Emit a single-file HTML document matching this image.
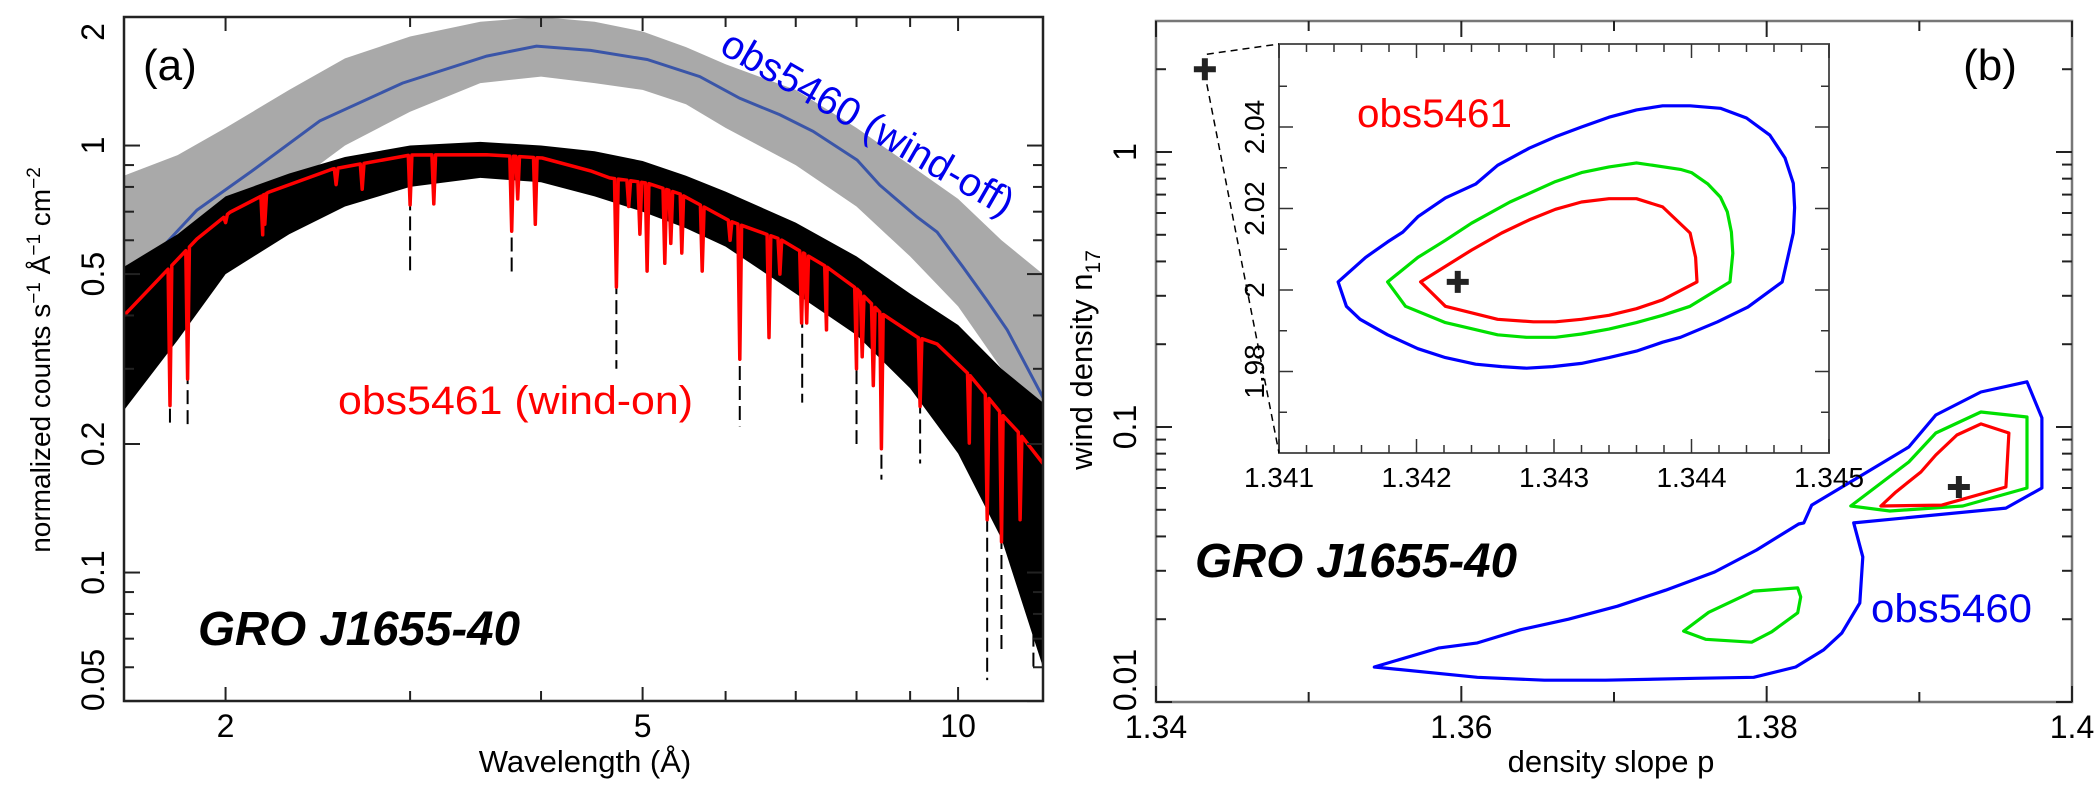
<!DOCTYPE html>
<html><head><meta charset="utf-8">
<style>
html,body{margin:0;padding:0;background:#fff;}
svg{display:block;}
text{font-family:"Liberation Sans",sans-serif;}
</style></head>
<body>
<svg id="fig" width="2100" height="792" viewBox="0 0 2100 792" xmlns="http://www.w3.org/2000/svg">
  <g id="pa"></g>
  <g id="pb"></g>
</svg>
<script>
// ---------- Panel (a) data ----------
const wlRed   = [1.6,1.705,1.878,2.02,2.2,2.53,3.0,3.55,4.01,4.46,4.65,5.05,5.43,6.06,6.76,7.5,8.01,8.42,9.14,9.55,10.27,11.04,11.46,12.05];
const modelRed= [0.40,0.471,0.604,0.698,0.778,0.881,0.95,0.952,0.935,0.872,0.84,0.817,0.77,0.665,0.604,0.519,0.461,0.407,0.356,0.343,0.289,0.233,0.211,0.18];
const wlBlue  = [1.61,1.77,1.878,2.12,2.46,2.95,3.55,3.96,4.46,5.05,5.67,6.19,6.76,7.27,8.01,8.42,9.14,9.55,10.11,10.66,11.14,12.05];
const modelBlue=[0.471,0.604,0.706,0.872,1.142,1.40,1.62,1.71,1.67,1.59,1.45,1.29,1.18,1.08,0.925,0.808,0.68,0.627,0.519,0.433,0.37,0.257];
const bandWl  = [1.6,1.8,2.0,2.3,2.6,3.0,3.5,4.0,4.5,5.0,5.5,6.0,7.0,8.0,9.0,10,11,12.05];
const greyLo  = [0.33,0.5,0.6,0.8,1.0,1.2,1.4,1.45,1.4,1.35,1.25,1.1,0.9,0.72,0.55,0.42,0.3,0.2];
const greyHi  = [0.85,0.95,1.1,1.35,1.6,1.8,1.95,2.0,1.95,1.85,1.7,1.55,1.35,1.1,0.9,0.75,0.6,0.5];
const blackLo = [0.24,0.35,0.5,0.62,0.72,0.8,0.84,0.82,0.76,0.7,0.64,0.58,0.45,0.36,0.27,0.19,0.12,0.06];
const blackHi = [0.52,0.62,0.76,0.86,0.94,1.0,1.02,1.0,0.97,0.92,0.85,0.78,0.66,0.55,0.45,0.38,0.3,0.25];
const lineWl  = [1.77,1.84,2.0,2.17,2.18,2.55,2.70,3.0,3.16,3.75,3.8,3.95,4.72,4.85,4.97,5.05,5.25,5.32,5.45,5.7,6.06,6.19,6.6,6.76,7.09,7.17,7.49,8.0,8.1,8.3,8.45,9.2,10.25,10.66,11.0,11.46];
const lineMin = [0.246,0.284,0.66,0.618,0.654,0.81,0.79,0.726,0.73,0.63,0.75,0.654,0.466,0.72,0.62,0.508,0.53,0.59,0.56,0.508,0.6,0.316,0.355,0.5,0.384,0.384,0.37,0.30,0.32,0.274,0.195,0.245,0.201,0.133,0.118,0.133];
const dipWl   = [1.77,1.84,3.0,3.75,4.72,6.19,7.1,8.0,8.45,9.2,10.0,10.66,11.0,11.8];
const dipMin  = [0.22,0.22,0.5,0.5,0.3,0.22,0.25,0.2,0.165,0.18,0.2,0.056,0.065,0.06];
const xTicksA = [2,3,4,5,6,7,8,9,10];
const xLabA   = ["2","5","10"];
const yTicksA = [0.05,0.06,0.07,0.08,0.09,0.1,0.2,0.3,0.4,0.5,0.6,0.7,0.8,0.9,1,2];
const yLabA   = ["0.05","0.1","0.2","0.5","1","2"];

// ---------- Panel (b) data ----------
const blueP = [1.3543,1.35849,1.36105,1.36387,1.36702,1.37023,1.37338,1.37659,1.37934,1.3821,1.38243,1.38295,1.38649,1.38931,1.39108,1.39403,1.39705,1.39803,1.39803,1.39567,1.3857,1.3863,1.3861,1.38492,1.38374,1.3819,1.37915,1.37534,1.36944,1.36544,1.36105];
const blueN = [0.0134,0.0157,0.0164,0.0183,0.02,0.0223,0.0255,0.0297,0.0357,0.0444,0.0448,0.052,0.0681,0.0846,0.1106,0.134,0.146,0.108,0.06,0.0507,0.0448,0.0337,0.0229,0.0178,0.0155,0.0134,0.0123,0.0122,0.012,0.012,0.0123];
const greenP = [1.38551,1.38807,1.39285,1.39705,1.39705,1.39403,1.39108,1.38931];
const greenN = [0.0516,0.0495,0.0516,0.06,0.1087,0.1134,0.0951,0.0746];
const green2P = [1.37456,1.3762,1.37915,1.38203,1.38223,1.38203,1.38033,1.37902,1.376];
const green2N = [0.0181,0.0212,0.0253,0.026,0.0241,0.0211,0.018,0.0165,0.0169];
const redP = [1.38748,1.39148,1.39567,1.39587,1.39403,1.39246,1.39108,1.3901,1.38846];
const redN = [0.0516,0.052,0.0605,0.0951,0.1026,0.0935,0.0791,0.0686,0.058];
const bestMain = [1.39259,0.0605];
const bestBig  = [1.3432,2.0];
const xTicksB = [1.34,1.35,1.36,1.37,1.38,1.39,1.4];
const xLabB = ["1.34","1.36","1.38","1.4"];
const yTicksB = [0.01,0.02,0.03,0.04,0.05,0.06,0.07,0.08,0.09,0.1,0.2,0.3,0.4,0.5,0.6,0.7,0.8,0.9,1,2];
const yLabB = ["0.01","0.1","1"];
// inset
const inBlueP = [1.34143,1.34149,1.34159,1.34179,1.34201,1.34221,1.34243,1.34262,1.3428,1.34299,1.3432,1.3434,1.3436,1.34379,1.34392,1.34419,1.34441,1.34466,1.3447,1.34474,1.34475,1.34474,1.34468,1.34457,1.3444,1.34421,1.34399,1.34379,1.3436,1.3434,1.3432,1.34301,1.34282,1.34259,1.34243,1.34221,1.34201,1.3419,1.34179,1.34163];
const inBlueN = [2.002,1.996,1.9928,1.989,1.9856,1.9834,1.9818,1.9812,1.9808,1.9812,1.982,1.9834,1.985,1.9872,1.9884,1.9922,1.9958,2.002,2.008,2.014,2.0202,2.0262,2.0324,2.038,2.0422,2.0446,2.0452,2.0452,2.0442,2.0424,2.04,2.0376,2.0348,2.0306,2.026,2.0226,2.018,2.0142,2.0118,2.008];
const inGreenP = [1.34179,1.34192,1.34221,1.34259,1.3428,1.34301,1.3432,1.3434,1.3436,1.34379,1.34399,1.34428,1.3443,1.34429,1.34426,1.34421,1.34412,1.344,1.34392,1.3436,1.3434,1.3432,1.34301,1.34268,1.3424,1.34221,1.34201];
const inGreenN = [2.002,1.996,1.992,1.989,1.9884,1.9884,1.9892,1.9904,1.992,1.9938,1.996,2.002,2.009,2.0142,2.0192,2.0228,2.026,2.0288,2.0296,2.0312,2.0302,2.0288,2.0266,2.0216,2.0164,2.0122,2.008];
const inRedP = [1.34203,1.34221,1.3424,1.34259,1.34285,1.34301,1.3432,1.3434,1.3436,1.34379,1.34404,1.34403,1.34399,1.34379,1.3436,1.3434,1.3432,1.34301,1.34282,1.34262,1.3424];
const inRedN = [2.002,1.996,1.9944,1.9928,1.9922,1.9922,1.9928,1.9938,1.9954,1.9976,2.002,2.008,2.014,2.0204,2.0224,2.0224,2.0216,2.0198,2.0172,2.014,2.0098];
const bestInset = [1.3423,2.002];
const inXTicks = [1.341,1.342,1.343,1.344,1.345];
const inYTicks = [1.98,2.0,2.02,2.04];
const inYLab = ["1.98","2","2.02","2.04"];

const NS="http://www.w3.org/2000/svg";
function mk(parent,tag,attrs,txt){const e=document.createElementNS(NS,tag);for(const k in attrs)e.setAttribute(k,attrs[k]);if(txt!==undefined)e.textContent=txt;parent.appendChild(e);return e;}

// ---------- Panel (a) ----------
const A={x0:124,x1:1043,y0:17,y1:701};
const ax=l=>A.x0+Math.log10(l/1.6)*1048;
const ay=v=>A.y0+Math.log10(2/v)*427;
const pa=document.getElementById('pa');
const clipA=mk(pa,'clipPath',{id:'clipA'});mk(clipA,'rect',{x:A.x0,y:A.y0,width:A.x1-A.x0,height:A.y1-A.y0});
const gA=mk(pa,'g',{'clip-path':'url(#clipA)'});

function band(lo,hi,color,name){
  let d='M'+bandWl.map((l,i)=>ax(l).toFixed(1)+','+ay(hi[i]).toFixed(1)).join('L');
  for(let i=bandWl.length-1;i>=0;i--)d+='L'+ax(bandWl[i]).toFixed(1)+','+ay(lo[i]).toFixed(1);
  const p=mk(gA,'path',{d:d+'Z',fill:color});
  
}
band(greyLo,greyHi,'#a9a9a9','obs5460-data-band');
const mb=mk(gA,'path',{d:'M'+wlBlue.map((l,i)=>ax(l).toFixed(1)+','+ay(modelBlue[i]).toFixed(1)).join('L'),fill:'none',stroke:'#3a55a8','stroke-width':3});

band(blackLo,blackHi,'#000','obs5461-data-band');
function interpRed(l){for(let i=0;i<wlRed.length-1;i++){if(l>=wlRed[i]&&l<=wlRed[i+1]){const t=Math.log(l/wlRed[i])/Math.log(wlRed[i+1]/wlRed[i]);return modelRed[i]*Math.pow(modelRed[i+1]/modelRed[i],t);}}return modelRed[modelRed.length-1];}
dipWl.forEach((l,i)=>{
  const e=mk(gA,'line',{x1:ax(l),x2:ax(l),y1:ay(interpRed(l)*0.8),y2:ay(dipMin[i]),stroke:'#000','stroke-width':2,'stroke-dasharray':'14,6'});
  
});
let pts=[];
const allW=wlRed.slice();
lineWl.forEach(l=>{allW.push(l*0.996,l,l*1.004);});
allW.sort((a,b)=>a-b);
allW.forEach(l=>{let v=interpRed(l);const k=lineWl.indexOf(l);if(k>=0)v=lineMin[k];pts.push(ax(l).toFixed(1)+','+ay(v).toFixed(1));});
const mr=mk(gA,'path',{d:'M'+pts.join('L'),fill:'none',stroke:'#ff0000','stroke-width':3.5,'stroke-linejoin':'round'});

const fa=mk(pa,'rect',{x:A.x0,y:A.y0,width:A.x1-A.x0,height:A.y1-A.y0,fill:'none',stroke:'#222','stroke-width':2.5});

xTicksA.forEach(l=>{const big=xLabA.includes(String(l));const L=big?14:10;const x=ax(l);
  mk(pa,'line',{x1:x,x2:x,y1:A.y1,y2:A.y1-L,stroke:'#222','stroke-width':2});
  mk(pa,'line',{x1:x,x2:x,y1:A.y0,y2:A.y0+L,stroke:'#222','stroke-width':2});
  if(big){const t=mk(pa,'text',{x:x,y:737,'font-size':32,'text-anchor':'middle'},String(l));
    }
});
yTicksA.forEach(v=>{const big=yLabA.includes(String(v));const L=big?16:10;const y=ay(v);
  mk(pa,'line',{x1:A.x0,x2:A.x0+L,y1:y,y2:y,stroke:'#222','stroke-width':2});
  mk(pa,'line',{x1:A.x1,x2:A.x1-L,y1:y,y2:y,stroke:'#222','stroke-width':2});
  if(big){const yy=Math.min(Math.max(y,32),680);const t=mk(pa,'text',{x:0,y:0,'font-size':32,'text-anchor':'middle',transform:`translate(104,${yy}) rotate(-90)`},String(v));
    }
});
let t;
t=mk(pa,'text',{x:585,y:772,'font-size':31,'text-anchor':'middle'},'Wavelength (Å)');
t=mk(pa,'text',{x:0,y:0,'font-size':28,'text-anchor':'middle',transform:'translate(50,360) rotate(-90)'});
t.innerHTML='normalized counts s<tspan dy="-10" font-size="19">−1</tspan><tspan dy="10"> Å</tspan><tspan dy="-10" font-size="19">−1</tspan><tspan dy="10"> cm</tspan><tspan dy="-10" font-size="19">−2</tspan>';

t=mk(pa,'text',{x:143,y:80,'font-size':44,'text-anchor':'start'},'(a)');
t=mk(pa,'text',{x:0,y:0,'font-size':40,fill:'#0000ee',transform:'translate(718,52) rotate(30)'},'obs5460 (wind-off)');
t=mk(pa,'text',{x:338,y:414,'font-size':40,fill:'#ff0000',textLength:355,lengthAdjust:'spacingAndGlyphs'},'obs5461 (wind-on)');
t=mk(pa,'text',{x:198,y:645,'font-size':48,'font-weight':'bold','font-style':'italic',textLength:322,lengthAdjust:'spacingAndGlyphs'},'GRO J1655-40');

// ---------- Panel (b) ----------
const B={x0:1156,x1:2072,y0:21,y1:702};
const bx=p=>B.x0+(p-1.34)/0.06*(B.x1-B.x0);
const by=n=>152-Math.log10(n)*275;
const pb=document.getElementById('pb');
function poly(g,P,N,fx,fy,color,name){const e=mk(g,'polygon',{points:P.map((p,i)=>fx(p).toFixed(1)+','+fy(N[i]).toFixed(1)).join(' '),fill:'none',stroke:color,'stroke-width':3.2,'stroke-linejoin':'round'});
  }
poly(pb,blueP,blueN,bx,by,'#0000ff','obs5460-contour-outer');
poly(pb,greenP,greenN,bx,by,'#00e000','obs5460-contour-mid');
poly(pb,green2P,green2N,bx,by,'#00e000','obs5460-contour-mid-island');
poly(pb,redP,redN,bx,by,'#ff0000','obs5460-contour-inner');
function plus(g,x,y,s,name){const e=mk(g,'path',{d:`M${x-s},${y}H${x+s}M${x},${y-s}V${y+s}`,stroke:'#222','stroke-width':6});}
plus(pb,bx(bestMain[0]),by(bestMain[1]),11,'best-fit-obs5460');
plus(pb,bx(bestBig[0]),by(bestBig[1]),11,'best-fit-obs5461');
const fb=mk(pb,'rect',{x:B.x0,y:B.y0,width:B.x1-B.x0,height:B.y1-B.y0,fill:'none',stroke:'#777','stroke-width':2.5});

xTicksB.forEach(p=>{const lab=xLabB.find(s=>Math.abs(parseFloat(s)-p)<1e-9);const L=lab?16:10;const x=bx(p);
  mk(pb,'line',{x1:x,x2:x,y1:B.y1,y2:B.y1-L,stroke:'#222','stroke-width':2});
  mk(pb,'line',{x1:x,x2:x,y1:B.y0,y2:B.y0+L,stroke:'#222','stroke-width':2});
  if(lab){const t=mk(pb,'text',{x:x,y:738,'font-size':32,'text-anchor':'middle'},lab);}
});
yTicksB.forEach(n=>{const lab=yLabB.find(s=>Math.abs(parseFloat(s)-n)<1e-9);const L=lab?16:10;const y=by(n);
  mk(pb,'line',{x1:B.x0,x2:B.x0+L,y1:y,y2:y,stroke:'#222','stroke-width':2});
  mk(pb,'line',{x1:B.x1,x2:B.x1-L,y1:y,y2:y,stroke:'#222','stroke-width':2});
  if(lab){const yy=Math.min(y,680);const t=mk(pb,'text',{x:0,y:0,'font-size':32,'text-anchor':'middle',transform:`translate(1136,${yy}) rotate(-90)`},lab);}
});
t=mk(pb,'text',{x:1611,y:772,'font-size':31,'text-anchor':'middle'},'density slope p');
t=mk(pb,'text',{x:0,y:0,'font-size':31,'text-anchor':'middle',transform:'translate(1092,360) rotate(-90)'});
t.innerHTML='wind density n<tspan dy="8" font-size="21">17</tspan>';

t=mk(pb,'text',{x:1990,y:80,'font-size':44,'text-anchor':'middle'},'(b)');
t=mk(pb,'text',{x:1871,y:622,'font-size':40,fill:'#0000ee',textLength:161,lengthAdjust:'spacingAndGlyphs'},'obs5460');
t=mk(pb,'text',{x:1195,y:577,'font-size':48,'font-weight':'bold','font-style':'italic',textLength:322,lengthAdjust:'spacingAndGlyphs'},'GRO J1655-40');

// inset
const I={x0:1279,x1:1829,y0:44,y1:453};
const ix=p=>I.x0+(p-1.341)/0.004*(I.x1-I.x0);
const iy=n=>290-(n-2)/0.01*40.75;
const gi=mk(pb,'g',{});

mk(gi,'rect',{x:I.x0,y:I.y0,width:I.x1-I.x0,height:I.y1-I.y0,fill:'#fff',stroke:'#555','stroke-width':2});
poly(gi,inBlueP,inBlueN,ix,iy,'#0000ff','obs5461-contour-outer');
poly(gi,inGreenP,inGreenN,ix,iy,'#00e000','obs5461-contour-mid');
poly(gi,inRedP,inRedN,ix,iy,'#ff0000','obs5461-contour-inner');
plus(gi,ix(bestInset[0]),iy(bestInset[1]),11,'best-fit-inset');
for(let k=0;k<=20;k++){const p=1.341+k*0.0002;const big=k%5===0;const L=big?14:8;const x=ix(p);
  mk(gi,'line',{x1:x,x2:x,y1:I.y1,y2:I.y1-L,stroke:'#333','stroke-width':1.5});
  mk(gi,'line',{x1:x,x2:x,y1:I.y0,y2:I.y0+L,stroke:'#333','stroke-width':1.5});}
inXTicks.forEach(p=>{const t=mk(gi,'text',{x:ix(p),y:487,'font-size':28,'text-anchor':'middle'},p.toFixed(3));});
for(let k=0;k<=10;k++){const n=1.95+k*0.01;const y=iy(n);if(y<I.y0+1||y>I.y1-1)continue;const big=(Math.round(n*100)%2===0);const L=big?14:8;
  mk(gi,'line',{x1:I.x0,x2:I.x0+L,y1:y,y2:y,stroke:'#333','stroke-width':1.5});
  mk(gi,'line',{x1:I.x1,x2:I.x1-L,y1:y,y2:y,stroke:'#333','stroke-width':1.5});}
inYTicks.forEach((n,i)=>{const t=mk(gi,'text',{x:0,y:0,'font-size':28,'text-anchor':'middle',transform:`translate(1264,${iy(n)}) rotate(-90)`},inYLab[i]);});
t=mk(gi,'text',{x:1357,y:127,'font-size':40,fill:'#ff0000',textLength:155,lengthAdjust:'spacingAndGlyphs'},'obs5461');
const dz=mk(pb,'path',{d:`M${bx(bestBig[0])+2},${by(bestBig[1])-15}L${I.x0},${I.y0}M${bx(bestBig[0])+2},${by(bestBig[1])+15}L${I.x0},${I.y1}`,stroke:'#000','stroke-width':1.5,'stroke-dasharray':'7,5',fill:'none'});

</script>
</body></html>
